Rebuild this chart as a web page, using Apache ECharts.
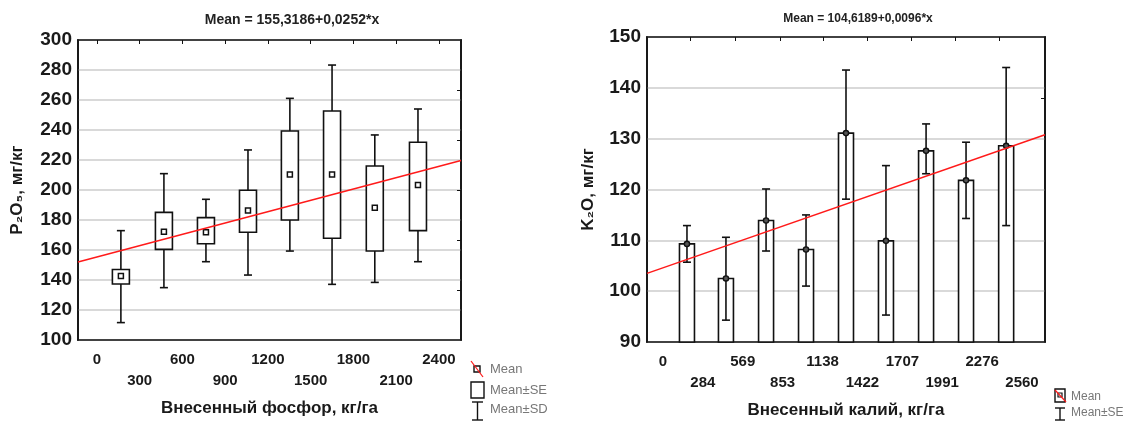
<!DOCTYPE html>
<html lang="ru">
<head>
    <meta charset="UTF-8">
    <title>Mean plots</title>
    <script src="https://cdn.jsdelivr.net/npm/echarts@6/dist/echarts.min.js"></script>
    <style>
        html, body { margin: 0; padding: 0; background: #fff; }
        #chart { width: 1140px; height: 424px; }
    </style>
</head>
<body>
<div id="chart"></div>
<script>
    // left plot: P2O5 vs phosphorus dose (box = mean±SE, whisker = mean±SD)
    var pPos    = [168, 470, 765, 1060, 1354, 1650, 1950, 2253];
    var pMean   = [142.7, 172.2, 171.8, 186.4, 210.4, 210.4, 188.2, 203.3];
    var pSeLow  = [137.3, 160.4, 164.2, 171.8, 180.0, 167.8, 159.3, 172.9];
    var pSeHigh = [147.0, 185.1, 181.6, 199.8, 239.3, 252.7, 216.0, 231.8];
    var pSdLow  = [111.6, 134.9, 152.2, 143.3, 159.3, 137.1, 138.4, 152.2];
    var pSdHigh = [172.9, 210.9, 193.8, 226.7, 261.1, 283.3, 236.7, 254.0];
    var pTicks  = [0, 300, 600, 900, 1200, 1500, 1800, 2100, 2400];
    var pFitLine = [[-133, 151.97], [2555, 219.7]];   // Mean = 155,3186+0,0252*x

    // right plot: K2O vs potassium dose (bar = mean, whisker = mean±SE)
    var kPos    = [171, 449, 735, 1020, 1305, 1590, 1876, 2161, 2447];
    var kMean   = [109.3, 102.5, 113.9, 108.2, 131.1, 109.9, 127.6, 121.8, 128.6];
    var kSeLow  = [105.7, 94.3, 107.9, 101.0, 118.1, 95.3, 123.1, 114.3, 112.9];
    var kSeHigh = [112.9, 110.6, 120.1, 115.0, 143.5, 124.7, 132.9, 129.3, 144.0];
    var kTicks  = [0, 284, 569, 853, 1138, 1422, 1707, 1991, 2276, 2560];
    var kFitLine = [[-114, 103.5], [2724, 130.77]];   // Mean = 104,6189+0,0096*x

    var font = 'Liberation Sans, Arial, sans-serif';

    var boxData = pPos.map(function (x, i) {
        return [x, pMean[i], pSeLow[i], pSeHigh[i], pSdLow[i], pSdHigh[i]];
    });
    var barData = kPos.map(function (x, i) {
        return [x, kMean[i], kSeLow[i], kSeHigh[i]];
    });

    function twoRows(ticks) {
        return function (v) {
            return ticks.indexOf(v) % 2 === 1 ? '\n' + v : '' + v;
        };
    }

    var stroke = { stroke: '#111', lineWidth: 1.6, fill: null };

    function renderBox(params, api) {
        var x = api.value(0);
        var m = api.coord([x, api.value(1)]);
        var seL = api.coord([x, api.value(2)]);
        var seH = api.coord([x, api.value(3)]);
        var sdL = api.coord([x, api.value(4)]);
        var sdH = api.coord([x, api.value(5)]);
        var cx = m[0], hw = 8.5, cw = 4;
        return {
            type: 'group',
            children: [
                { type: 'line', shape: { x1: cx, y1: sdL[1], x2: cx, y2: sdH[1] }, style: stroke },
                { type: 'line', shape: { x1: cx - cw, y1: sdL[1], x2: cx + cw, y2: sdL[1] }, style: stroke },
                { type: 'line', shape: { x1: cx - cw, y1: sdH[1], x2: cx + cw, y2: sdH[1] }, style: stroke },
                { type: 'rect', shape: { x: cx - hw, y: seH[1], width: hw * 2, height: seL[1] - seH[1] },
                  style: { fill: '#fff', stroke: '#111', lineWidth: 1.6 } },
                { type: 'rect', shape: { x: cx - 2.5, y: m[1] - 2.5, width: 5, height: 5 },
                  style: { fill: '#fff', stroke: '#111', lineWidth: 1.5 } }
            ]
        };
    }

    function renderBar(params, api) {
        var x = api.value(0);
        var m = api.coord([x, api.value(1)]);
        var base = api.coord([x, 90]);
        var seL = api.coord([x, api.value(2)]);
        var seH = api.coord([x, api.value(3)]);
        var cx = m[0], hw = 7.5, cw = 4;
        return {
            type: 'group',
            children: [
                { type: 'rect', shape: { x: cx - hw, y: m[1], width: hw * 2, height: base[1] - m[1] },
                  style: { fill: '#fff', stroke: '#111', lineWidth: 1.6 } },
                { type: 'line', shape: { x1: cx, y1: seL[1], x2: cx, y2: seH[1] }, style: stroke },
                { type: 'line', shape: { x1: cx - cw, y1: seL[1], x2: cx + cw, y2: seL[1] }, style: stroke },
                { type: 'line', shape: { x1: cx - cw, y1: seH[1], x2: cx + cw, y2: seH[1] }, style: stroke },
                { type: 'circle', shape: { cx: cx, cy: m[1], r: 2.6 },
                  style: { fill: '#555', stroke: '#111', lineWidth: 1.4 } }
            ]
        };
    }

    var tickLabel = { fontFamily: font, fontWeight: 'bold', fontSize: 15, color: '#1a1a1a' };
    var yLabel = { fontFamily: font, fontWeight: 'bold', fontSize: 19, color: '#1a1a1a', margin: 6 };
    var nameStyle = { fontFamily: font, fontWeight: 'bold', fontSize: 17, color: '#1a1a1a' };
    var gridLine = { show: true, lineStyle: { color: '#d9d9d9', width: 2 } };
    var frame = { show: true, onZero: false, lineStyle: { color: '#111', width: 1.6 } };

    var option = {
        animation: false,
        title: [
            { text: 'Mean = 155,3186+0,0252*x', left: 287, top: 8, textAlign: 'center',
              textStyle: { fontFamily: font, fontWeight: 'bold', fontSize: 14, color: '#222' } },
            { text: 'Mean = 104,6189+0,0096*x', left: 853, top: 8, textAlign: 'center',
              textStyle: { fontFamily: font, fontWeight: 'bold', fontSize: 12, color: '#222' } }
        ],
        grid: [
            { left: 78, top: 40, width: 383, height: 300, show: true, borderColor: '#111', borderWidth: 1.6 },
            { left: 647, top: 37, width: 398, height: 305, show: true, borderColor: '#111', borderWidth: 1.6 }
        ],
        xAxis: [
            { type: 'value', gridIndex: 0, min: -133, max: 2555,
              name: 'Внесенный фосфор, кг/га', nameLocation: 'middle', nameGap: 60, nameTextStyle: nameStyle,
              axisLine: frame, axisTick: { show: false }, splitLine: { show: false },
              axisLabel: Object.assign({ customValues: pTicks, formatter: twoRows(pTicks), lineHeight: 21, margin: 9 }, tickLabel) },
            { type: 'value', gridIndex: 0, position: 'top', min: -133, max: 2555,
              axisLine: frame, axisLabel: { show: false }, splitLine: { show: false },
              axisTick: { show: true, inside: true, length: 4, customValues: pTicks, lineStyle: { color: '#111' } } },
            { type: 'value', gridIndex: 1, min: -114, max: 2724,
              name: 'Внесенный калий, кг/га', nameLocation: 'middle', nameGap: 60, nameTextStyle: nameStyle,
              axisLine: frame, axisTick: { show: false }, splitLine: { show: false },
              axisLabel: Object.assign({ customValues: kTicks, formatter: twoRows(kTicks), lineHeight: 21, margin: 9 }, tickLabel) },
            { type: 'value', gridIndex: 1, position: 'top', min: -114, max: 2724,
              axisLine: frame, axisLabel: { show: false }, splitLine: { show: false },
              axisTick: { show: true, inside: true, length: 4, customValues: [193, 514, 835, 1141, 1455, 1770, 2085, 2400], lineStyle: { color: '#111' } } }
        ],
        yAxis: [
            { type: 'value', gridIndex: 0, min: 100, max: 300, interval: 20,
              name: 'P₂O₅, мг/кг', nameLocation: 'middle', nameGap: 52, nameRotate: 90, nameTextStyle: nameStyle,
              axisLine: frame, axisTick: { show: false }, splitLine: gridLine, axisLabel: yLabel },
            { type: 'value', gridIndex: 0, position: 'right', min: 100, max: 300,
              axisLine: frame, axisLabel: { show: false }, splitLine: { show: false },
              axisTick: { show: true, inside: true, length: 4, customValues: [133.3, 166.7, 200, 233.3, 266.7], lineStyle: { color: '#111' } } },
            { type: 'value', gridIndex: 1, min: 90, max: 150, interval: 10,
              name: 'K₂O, мг/кг', nameLocation: 'middle', nameGap: 50, nameRotate: 90, nameTextStyle: nameStyle,
              axisLine: frame, axisTick: { show: false }, splitLine: gridLine, axisLabel: yLabel },
            { type: 'value', gridIndex: 1, position: 'right', min: 90, max: 150,
              axisLine: frame, axisLabel: { show: false }, splitLine: { show: false },
              axisTick: { show: true, inside: true, length: 4, customValues: [137.9], lineStyle: { color: '#111' } } }
        ],
        series: [
            { type: 'custom', xAxisIndex: 0, yAxisIndex: 0, renderItem: renderBox, data: boxData, z: 2,
              encode: { x: 0, y: [1, 2, 3, 4, 5] } },
            { type: 'line', xAxisIndex: 0, yAxisIndex: 0, data: pFitLine, symbol: 'none', z: 5,
              lineStyle: { color: '#ff1a1a', width: 1.5 } },
            { type: 'custom', xAxisIndex: 2, yAxisIndex: 2, renderItem: renderBar, data: barData, z: 2,
              encode: { x: 0, y: [1, 2, 3] } },
            { type: 'line', xAxisIndex: 2, yAxisIndex: 2, data: kFitLine, symbol: 'none', z: 5,
              lineStyle: { color: '#ff1a1a', width: 1.5 } }
        ],
        graphic: [
            // left legend
            { type: 'rect', shape: { x: 474, y: 366, width: 6, height: 6 }, style: { fill: '#fff', stroke: '#111', lineWidth: 1.4 } },
            { type: 'line', shape: { x1: 471, y1: 361, x2: 483, y2: 377 }, style: { stroke: '#ff1a1a', lineWidth: 1.2 } },
            { type: 'rect', shape: { x: 471, y: 382, width: 13, height: 16 }, style: { fill: '#fff', stroke: '#111', lineWidth: 1.4 } },
            { type: 'line', shape: { x1: 477.5, y1: 402, x2: 477.5, y2: 420 }, style: { stroke: '#111', lineWidth: 1.4 } },
            { type: 'line', shape: { x1: 472, y1: 402, x2: 483, y2: 402 }, style: { stroke: '#111', lineWidth: 1.4 } },
            { type: 'line', shape: { x1: 472, y1: 420, x2: 483, y2: 420 }, style: { stroke: '#111', lineWidth: 1.4 } },
            { type: 'text', x: 490, y: 369, style: { text: 'Mean', font: '13px ' + font, fill: '#777', verticalAlign: 'middle' } },
            { type: 'text', x: 490, y: 390, style: { text: 'Mean±SE', font: '13px ' + font, fill: '#777', verticalAlign: 'middle' } },
            { type: 'text', x: 490, y: 409, style: { text: 'Mean±SD', font: '13px ' + font, fill: '#777', verticalAlign: 'middle' } },
            // right legend
            { type: 'rect', shape: { x: 1055, y: 389, width: 10, height: 13 }, style: { fill: '#fff', stroke: '#111', lineWidth: 1.4 } },
            { type: 'rect', shape: { x: 1058, y: 393, width: 4, height: 4 }, style: { fill: '#fff', stroke: '#111', lineWidth: 1.2 } },
            { type: 'line', shape: { x1: 1055, y1: 390, x2: 1066, y2: 402 }, style: { stroke: '#ff1a1a', lineWidth: 1.2 } },
            { type: 'line', shape: { x1: 1060, y1: 408, x2: 1060, y2: 420 }, style: { stroke: '#111', lineWidth: 1.4 } },
            { type: 'line', shape: { x1: 1055, y1: 408, x2: 1065, y2: 408 }, style: { stroke: '#111', lineWidth: 1.4 } },
            { type: 'line', shape: { x1: 1055, y1: 420, x2: 1065, y2: 420 }, style: { stroke: '#111', lineWidth: 1.4 } },
            { type: 'text', x: 1071, y: 397, style: { text: 'Mean', font: '12px ' + font, fill: '#777', verticalAlign: 'middle' } },
            { type: 'text', x: 1071, y: 413, style: { text: 'Mean±SE', font: '12px ' + font, fill: '#777', verticalAlign: 'middle' } }
        ]
    };

    var myChart = echarts.init(document.getElementById('chart'));
    myChart.setOption(option);
</script>
</body>
</html>
